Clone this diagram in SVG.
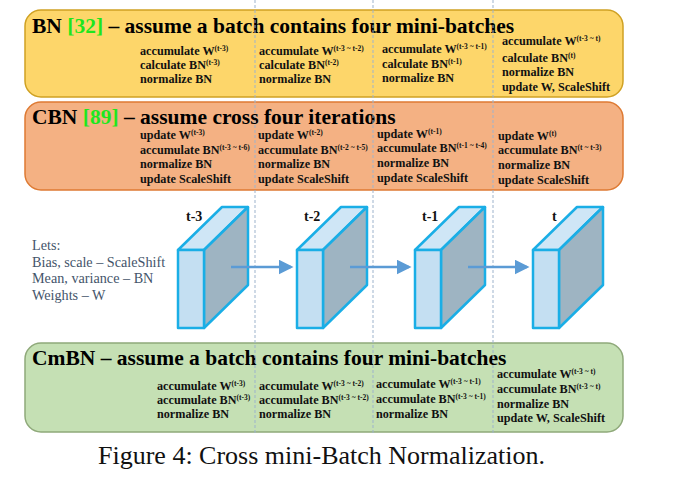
<svg xmlns="http://www.w3.org/2000/svg" width="695" height="491" viewBox="0 0 695 491">
<style>
.title{font-family:"Liberation Serif",serif;font-weight:bold;font-size:21.5px;fill:#000}
.ref{fill:#1ee61e}
.b{font-family:"Liberation Serif",serif;font-weight:bold;font-size:12.2px;fill:#111}
.s{font-size:7.5px}
.lets{font-family:"Liberation Serif",serif;font-size:14.2px;fill:#44546A}
.lab{font-family:"Liberation Serif",serif;font-weight:bold;font-size:14px;fill:#111}
.cap{font-family:"Liberation Serif",serif;font-size:26px;fill:#111}
.div{stroke:#9DB3CC;stroke-width:1;stroke-dasharray:3,2;fill:none}
.front{fill:#C4DFF2;stroke:#1AAEE6;stroke-width:2.5;stroke-linejoin:round}
.top{fill:#CFE6F6;stroke:#1AAEE6;stroke-width:2.5;stroke-linejoin:round}
.side{fill:#9EB4C2;stroke:#1AAEE6;stroke-width:2.5;stroke-linejoin:round}
.arr{stroke:#5B9BD5;stroke-width:2.5;fill:none}
</style>
<defs>
<marker id="ah" markerWidth="6" markerHeight="6" refX="5" refY="3" orient="auto" markerUnits="strokeWidth">
<path d="M0,0 L6,3 L0,6 Z" fill="#5B9BD5"/>
</marker>
</defs>
<rect width="695" height="491" fill="#fff"/>

<g id="bn-panel">
<rect x="25" y="10" width="598" height="87" rx="16" fill="#FDD66A" stroke="#CFA123" stroke-width="1.5"/>
<text class="title" x="32" y="33">BN <tspan class="ref">[32]</tspan> – assume a batch contains four mini-batches</text>
<text class="b" x="140" y="55">accumulate W<tspan class="s" dy="-4">(t-3)</tspan></text>
<text class="b" x="140" y="69">calculate BN<tspan class="s" dy="-4">(t-3)</tspan></text>
<text class="b" x="140" y="83">normalize BN</text>
<text class="b" x="259" y="55">accumulate W<tspan class="s" dy="-4">(t-3 ~ t-2)</tspan></text>
<text class="b" x="259" y="69">calculate BN<tspan class="s" dy="-4">(t-2)</tspan></text>
<text class="b" x="259" y="83">normalize BN</text>
<text class="b" x="382" y="53">accumulate W<tspan class="s" dy="-4">(t-3 ~ t-1)</tspan></text>
<text class="b" x="382" y="68">calculate BN<tspan class="s" dy="-4">(t-1)</tspan></text>
<text class="b" x="382" y="82">normalize BN</text>
<text class="b" x="502" y="45">accumulate W<tspan class="s" dy="-4">(t-3 ~ t)</tspan></text>
<text class="b" x="502" y="62">calculate BN<tspan class="s" dy="-4">(t)</tspan></text>
<text class="b" x="502" y="76">normalize BN</text>
<text class="b" x="502" y="91">update W, ScaleShift</text>
</g>

<g id="cbn-panel">
<rect x="25" y="102" width="598" height="88" rx="16" fill="#F4B183" stroke="#DE7A33" stroke-width="1.5"/>
<text class="title" x="32" y="124">CBN <tspan class="ref">[89]</tspan> – assume cross four iterations</text>
<text class="b" x="140" y="139">update W<tspan class="s" dy="-4">(t-3)</tspan></text>
<text class="b" x="140" y="154">accumulate BN<tspan class="s" dy="-4">(t-3 ~ t-6)</tspan></text>
<text class="b" x="140" y="168">normalize BN</text>
<text class="b" x="140" y="183">update ScaleShift</text>
<text class="b" x="258" y="139">update W<tspan class="s" dy="-4">(t-2)</tspan></text>
<text class="b" x="258" y="154">accumulate BN<tspan class="s" dy="-4">(t-2 ~ t-5)</tspan></text>
<text class="b" x="258" y="168">normalize BN</text>
<text class="b" x="258" y="183">update ScaleShift</text>
<text class="b" x="377" y="138">update W<tspan class="s" dy="-4">(t-1)</tspan></text>
<text class="b" x="377" y="152">accumulate BN<tspan class="s" dy="-4">(t-1 ~ t-4)</tspan></text>
<text class="b" x="377" y="167">normalize BN</text>
<text class="b" x="377" y="182">update ScaleShift</text>
<text class="b" x="498" y="140">update W<tspan class="s" dy="-4">(t)</tspan></text>
<text class="b" x="498" y="154">accumulate BN<tspan class="s" dy="-4">(t ~ t-3)</tspan></text>
<text class="b" x="498" y="169">normalize BN</text>
<text class="b" x="498" y="184">update ScaleShift</text>
</g>

<g id="cmbn-panel">
<rect x="25" y="343" width="598" height="89" rx="16" fill="#C5E0B4" stroke="#8FA97A" stroke-width="1.5"/>
<text class="title" x="32" y="365">CmBN – assume a batch contains four mini-batches</text>
<text class="b" x="157" y="390">accumulate W<tspan class="s" dy="-4">(t-3)</tspan></text>
<text class="b" x="157" y="404">accumulate BN<tspan class="s" dy="-4">(t-3)</tspan></text>
<text class="b" x="157" y="418">normalize BN</text>
<text class="b" x="259" y="390">accumulate W<tspan class="s" dy="-4">(t-3 ~ t-2)</tspan></text>
<text class="b" x="259" y="404">accumulate BN<tspan class="s" dy="-4">(t-3 ~ t-2)</tspan></text>
<text class="b" x="259" y="418">normalize BN</text>
<text class="b" x="376" y="388">accumulate W<tspan class="s" dy="-4">(t-3 ~ t-1)</tspan></text>
<text class="b" x="376" y="403">accumulate BN<tspan class="s" dy="-4">(t-3 ~ t-1)</tspan></text>
<text class="b" x="376" y="418">normalize BN</text>
<text class="b" x="497" y="378">accumulate W<tspan class="s" dy="-4">(t-3 ~ t)</tspan></text>
<text class="b" x="497" y="393">accumulate BN<tspan class="s" dy="-4">(t-3 ~ t)</tspan></text>
<text class="b" x="497" y="408">normalize BN</text>
<text class="b" x="497" y="422">update W, ScaleShift</text>
</g>

<g id="dividers">
<line class="div" x1="255" y1="0" x2="255" y2="433"/>
<line class="div" x1="373" y1="0" x2="373" y2="433"/>
<line class="div" x1="493" y1="0" x2="493" y2="433"/>
</g>

<g id="legend">
<text class="lets" x="32" y="250">Lets:</text>
<text class="lets" x="32" y="267">Bias, scale – ScaleShift</text>
<text class="lets" x="32" y="283">Mean, variance – BN</text>
<text class="lets" x="32" y="300">Weights – W</text>
</g>

<g id="cube-t3">
<polygon class="top" points="178,250 204,250 248,207 222,207"/>
<polygon class="side" points="204,250 248,207 248,285 204,328"/>
<rect class="front" x="178" y="250" width="26" height="78"/>
<text class="lab" x="186" y="221">t-3</text>
</g>
<g id="cube-t2">
<polygon class="top" points="297,250 323,250 367,207 341,207"/>
<polygon class="side" points="323,250 367,207 367,285 323,328"/>
<rect class="front" x="297" y="250" width="26" height="78"/>
<text class="lab" x="304" y="221">t-2</text>
</g>
<g id="cube-t1">
<polygon class="top" points="415,250 441,250 485,207 459,207"/>
<polygon class="side" points="441,250 485,207 485,285 441,328"/>
<rect class="front" x="415" y="250" width="26" height="78"/>
<text class="lab" x="422" y="221">t-1</text>
</g>
<g id="cube-t">
<polygon class="top" points="533,250 559,250 603,207 577,207"/>
<polygon class="side" points="559,250 603,207 603,285 559,328"/>
<rect class="front" x="533" y="250" width="26" height="78"/>
<text class="lab" x="552" y="221">t</text>
</g>

<g id="connectors">
<line class="arr" x1="231" y1="267" x2="291" y2="267" marker-end="url(#ah)"/>
<line class="arr" x1="350" y1="267" x2="409" y2="267" marker-end="url(#ah)"/>
<line class="arr" x1="468" y1="267" x2="527" y2="267" marker-end="url(#ah)"/>
</g>

<text class="cap" x="98" y="464">Figure 4: Cross mini-Batch Normalization.</text>
</svg>
